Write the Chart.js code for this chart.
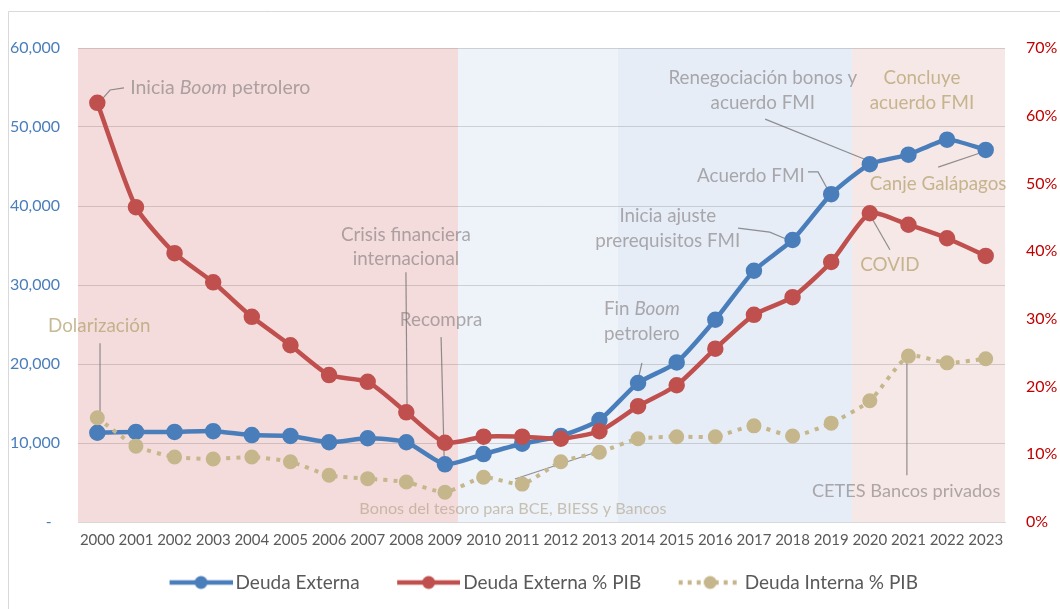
<!DOCTYPE html>
<html><head><meta charset="utf-8">
<script src="https://cdn.jsdelivr.net/npm/chart.js@4"></script>
<style>html,body{margin:0;padding:0;background:#fff}canvas{display:block}</style>
</head><body>
<canvas id="c" width="1060" height="609"></canvas>
<script>
const years = ['2000','2001','2002','2003','2004','2005','2006','2007','2008','2009','2010','2011','2012','2013','2014','2015','2016','2017','2018','2019','2020','2021','2022','2023'];
const deudaExterna = [11300,11400,11400,11500,11000,10900,10100,10600,10100,7300,8600,9900,10900,12900,17600,20200,25600,31800,35700,41500,45300,46500,48400,47100];
const deudaExternaPIB = [61.9,46.5,39.7,35.4,30.3,26.1,21.7,20.7,16.2,11.7,12.6,12.6,12.3,13.4,17.1,20.2,25.6,30.6,33.2,38.4,45.6,43.9,41.9,39.3];
const deudaInternaPIB = [15.4,11.2,9.6,9.3,9.6,8.9,6.9,6.4,5.9,4.4,6.6,5.6,8.9,10.3,12.3,12.6,12.6,14.2,12.7,14.6,17.9,24.5,23.5,24.1];
const leftTickValues = [0,10000,20000,30000,40000,50000,60000];
const rightTickValues = [0,10,20,30,40,50,60,70];
const seriesNames = ['Deuda Externa','Deuda Externa % PIB','Deuda Interna % PIB'];

// shaded periods, in category-index units
const periodStarts = [-0.5, 9.34, 13.47, 19.54];
const periodEnds   = [9.34, 13.47, 19.54, 23.5];
const periodColors = ['#f4dcdc', '#eef2f9', '#e6edf7', '#f6e8e6'];

const GRAY = 'rgba(125,118,118,0.6)';
const TAN = 'rgba(178,160,108,0.72)';
const LEAD = 'rgba(110,110,110,0.75)';
// annotations: x in category index, y in % of right axis
const notes = [
  {lines:[[['Inicia ',0],['Boom',1],[' petrolero',0]]], x:0.85, y:64.2, align:'left', color:GRAY, size:19.5, lead:[[0.04,61.9],[0.33,63.8],[0.69,64.1]]},
  {lines:[[['Crisis financiera',0]],[['internacional',0]]], x:7.99, y:[42.4,38.8], align:'center', color:GRAY, lead:[[7.99,36.9],[8.02,16.2]]},
  {lines:[[['Dolarización',0]]], x:0.05, y:28.9, align:'center', color:TAN, lead:[[0.07,26.4],[0.07,15.4]]},
  {lines:[[['Recompra',0]]], x:8.9, y:29.8, align:'center', color:GRAY, lead:[[8.9,27.3],[8.98,9.5]]},
  {lines:[[['Bonos del tesoro para BCE, BIESS y Bancos',0]]], x:10.76, y:1.9, align:'center', color:'rgba(165,152,120,0.55)', size:16.2, lead:[[10.81,6.35],[12.91,10.3]]},
  {lines:[[['Fin ',0],['Boom',1]],[['petrolero',0]]], x:14.1, y:[31.5,27.8], align:'center', color:GRAY, lead:[[14.1,23.5],[14.0,21.0]]},
  {lines:[[['Inicia ajuste',0]],[['prerequisitos FMI',0]]], x:14.77, y:[45.2,41.5], align:'center', color:GRAY, lead:[[16.59,43.4],[17.41,42.8],[17.91,41.6]]},
  {lines:[[['Acuerdo FMI',0]]], x:16.92, y:51.1, align:'center', color:GRAY, lead:[[18.4,51.7],[18.66,51.7],[18.92,49.0]]},
  {lines:[[['Renegociación bonos y',0]],[['acuerdo FMI',0]]], x:17.23, y:[65.6,61.9], align:'center', color:GRAY, lead:[[17.29,59.5],[19.9,53.5]]},
  {lines:[[['Concluye',0]],[['acuerdo FMI',0]]], x:21.35, y:[65.6,61.9], align:'center', color:TAN},
  {lines:[[['Canje Galápagos',0]]], x:21.77, y:49.9, align:'center', color:TAN, lead:[[21.77,52.4],[22.91,54.6]]},
  {lines:[[['COVID',0]]], x:20.52, y:38.0, align:'center', color:TAN, lead:[[20.05,44.9],[20.52,40.2]]},
  {lines:[[['CETES Bancos privados',0]]], x:20.94, y:4.6, align:'center', color:GRAY, size:18.2, lead:[[20.96,24.2],[20.96,6.9]]}
];

const FONT = 'Lato';
const BLUE = '#4a7ebb', RED = '#c0504d', TANC = '#c6b68c';

function legendIcon(color, dotted) {
  const cv = document.createElement('canvas');
  cv.width = 97; cv.height = 16;
  const g = cv.getContext('2d');
  g.strokeStyle = color; g.lineWidth = 4.5;
  if (dotted) { g.setLineDash([4,5]); }
  g.beginPath(); g.moveTo(34, 8); g.lineTo(97, 8); g.stroke();
  g.setLineDash([]);
  g.fillStyle = color;
  g.beginPath(); g.arc(65.5, 8, 6.5, 0, Math.PI*2); g.fill();
  return cv;
}
const icons = [legendIcon(BLUE,false), legendIcon(RED,false), legendIcon(TANC,true)];

const bandsPlugin = {
  id: 'bands',
  beforeDraw(chart) {
    const {ctx, chartArea: a, scales: {x}} = chart;
    ctx.save();
    for (let i = 0; i < periodStarts.length; i++) {
      const l = Math.max(a.left, x.getPixelForValue(periodStarts[i]));
      const r = Math.min(a.right, x.getPixelForValue(periodEnds[i]));
      ctx.fillStyle = periodColors[i];
      ctx.fillRect(l, a.top, r - l, a.bottom - a.top);
    }
    ctx.restore();
    ctx.save();
    ctx.strokeStyle = '#d9d9d9'; ctx.lineWidth = 1;
    ctx.beginPath(); ctx.moveTo(8.5, 609); ctx.lineTo(8.5, 11.5); ctx.lineTo(1060, 11.5); ctx.stroke();
    ctx.restore();
  },
  beforeDatasetsDraw(chart) {
    const {ctx, scales: {x, y1}} = chart;
    ctx.save();
    ctx.strokeStyle = LEAD; ctx.lineWidth = 1.2;
    notes.forEach(n => {
      if (!n.lead) return;
      ctx.beginPath();
      n.lead.forEach((p, i) => {
        const px = x.getPixelForValue(p[0]), py = y1.getPixelForValue(p[1]);
        if (i === 0) ctx.moveTo(px, py); else ctx.lineTo(px, py);
      });
      ctx.stroke();
    });
    ctx.restore();
  },
  afterDatasetsDraw(chart) {
    const {ctx, scales: {x, y1}} = chart;
    ctx.save();
    ctx.textBaseline = 'middle';
    notes.forEach(n => {
      const size = n.size || 18.8;
      const ys = Array.isArray(n.y) ? n.y : [n.y];
      n.lines.forEach((segs, li) => {
        const fonts = segs.map(s => (s[1] ? 'italic ' : '') + size + 'px ' + FONT);
        let w = 0;
        const ws = segs.map((s, i) => { ctx.font = fonts[i]; const m = ctx.measureText(s[0]).width; w += m; return m; });
        let px = x.getPixelForValue(n.x);
        if (n.align === 'center') px -= w / 2;
        const py = y1.getPixelForValue(ys[li]);
        ctx.fillStyle = n.color;
        ctx.textAlign = 'left';
        segs.forEach((s, i) => { ctx.font = fonts[i]; ctx.fillText(s[0], px, py); px += ws[i]; });
      });
    });
    ctx.restore();
  }
};

new Chart(document.getElementById('c'), {
  type: 'line',
  data: {
    labels: years,
    datasets: [
      {label: seriesNames[0], data: deudaExterna, yAxisID: 'y', borderColor: BLUE, backgroundColor: BLUE, pointBackgroundColor: BLUE, pointBorderColor: BLUE, borderWidth: 4.5, pointRadius: 6, tension: 0.2, order: 2},
      {label: seriesNames[1], data: deudaExternaPIB, yAxisID: 'y1', borderColor: RED, backgroundColor: RED, pointBackgroundColor: RED, pointBorderColor: RED, borderWidth: 4.5, pointRadius: 6, tension: 0.2, order: 0},
      {label: seriesNames[2], data: deudaInternaPIB, yAxisID: 'y1', borderColor: TANC, backgroundColor: TANC, pointBackgroundColor: TANC, pointBorderColor: TANC, borderWidth: 4, borderDash: [4,6], pointRadius: 5.5, tension: 0.2, order: 1}
    ]
  },
  options: {
    responsive: false,
    animation: false,
    layout: {padding: {left: 0, right: 0, top: 48, bottom: 7}},
    scales: {
      x: {
        offset: true,
        grid: {display: false, drawTicks: false},
        border: {display: true, color: '#d9d9d9', width: 1},
        ticks: {color: '#595959', font: {family: FONT, size: 15}, padding: 9, maxRotation: 0, autoSkip: false},
        afterFit(s) { s.height = 41; }
      },
      y: {
        position: 'left', min: 0, max: 60000,
        afterBuildTicks(s) { s.ticks = leftTickValues.map(v => ({value: v})); },
        grid: {color: 'rgba(90,80,80,0.22)', drawTicks: false, lineWidth: 1},
        border: {display: false},
        ticks: {color: '#4a7ebb', font: {family: FONT, size: 16}, padding: 18,
          callback: v => v === 0 ? '-  ' : v.toLocaleString('en-US')},
        afterFit(s) { s.width = 78; }
      },
      y1: {
        position: 'right', min: 0, max: 70,
        afterBuildTicks(s) { s.ticks = rightTickValues.map(v => ({value: v})); },
        grid: {display: false, drawTicks: false},
        border: {display: false},
        ticks: {color: '#c00000', font: {family: FONT, size: 16}, padding: 21, callback: v => v + '%'},
        afterFit(s) { s.width = 55; }
      }
    },
    plugins: {
      legend: {
        position: 'bottom', fullSize: true,
        labels: {
          usePointStyle: true, pointStyleWidth: 84, padding: 10,
          color: '#595959', font: {family: FONT, size: 19},
          sort: (a, b) => a.datasetIndex - b.datasetIndex,
          generateLabels(chart) {
            return chart.data.datasets.map((d, i) => ({
              text: d.label, datasetIndex: i, pointStyle: icons[i],
              fillStyle: d.borderColor, strokeStyle: d.borderColor, lineWidth: 0,
              fontColor: '#595959', hidden: false
            }));
          }
        }
      },
      tooltip: {enabled: false}
    }
  },
  plugins: [bandsPlugin]
});
</script>
</body></html>
